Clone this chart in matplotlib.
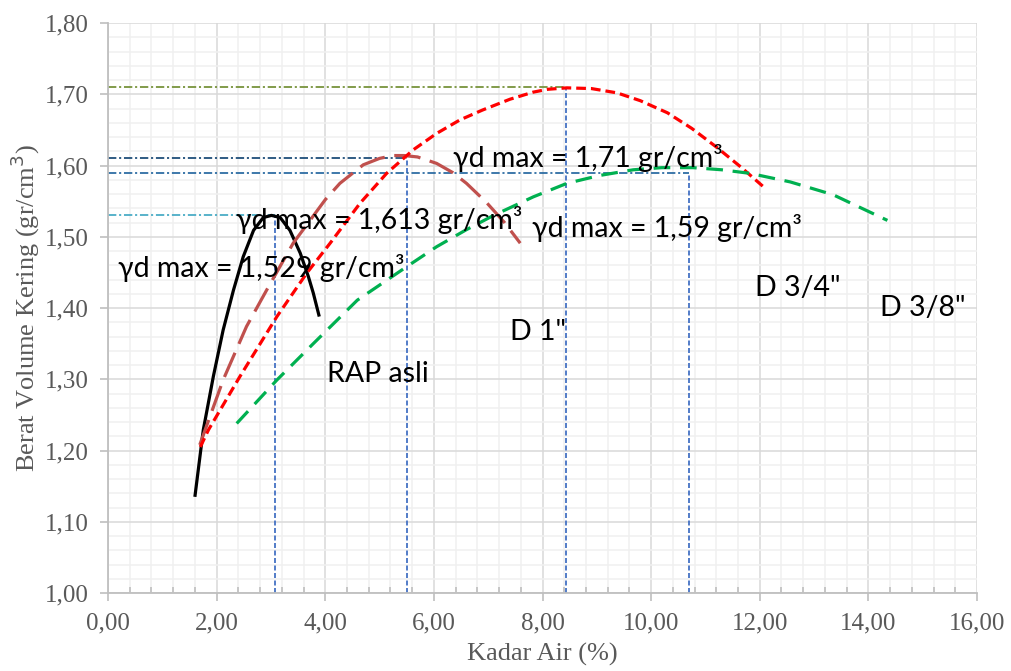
import matplotlib
matplotlib.use("Agg")
import matplotlib.pyplot as plt
from matplotlib.ticker import MultipleLocator, FuncFormatter

plt.rcParams['lines.scale_dashes'] = False

# ---- data ----
rap_x = [1.60, 1.755, 1.94, 2.12, 2.31, 2.49, 2.68, 2.86, 3.01, 3.17, 3.35, 3.54, 3.69, 3.78, 3.89]
rap_y = [1.135, 1.229, 1.304, 1.369, 1.425, 1.472, 1.509, 1.527, 1.530, 1.527, 1.509, 1.477, 1.444, 1.421, 1.388]

d1_x = [1.69, 2.12, 2.55, 2.92, 3.41, 4.00, 4.27, 4.70, 5.00, 5.25, 5.45, 5.70, 6.05, 6.35, 6.60, 6.97, 7.30, 7.59]
d1_y = [1.208, 1.299, 1.374, 1.425, 1.491, 1.552, 1.575, 1.601, 1.610, 1.614, 1.614, 1.612, 1.603, 1.590, 1.575, 1.548, 1.520, 1.491]

d34_x = [1.70, 1.85, 2.43, 3.11, 3.66, 4.09, 4.64, 5.13, 5.62, 6.05, 6.48, 6.90, 7.40, 7.83, 8.10, 8.45, 8.90, 9.37, 9.80, 10.30, 10.75, 11.20, 11.65, 12.10]
d34_y = [1.205, 1.229, 1.304, 1.388, 1.449, 1.491, 1.547, 1.589, 1.622, 1.645, 1.664, 1.678, 1.693, 1.703, 1.707, 1.709, 1.708, 1.702, 1.691, 1.674, 1.652, 1.626, 1.598, 1.568]

d38_x = [2.37, 3.11, 3.78, 4.59, 5.50, 6.05, 6.60, 7.10, 7.83, 8.45, 9.05, 9.67, 10.20, 10.77, 11.30, 11.82, 12.56, 13.35, 14.35]
d38_y = [1.238, 1.299, 1.350, 1.411, 1.458, 1.486, 1.510, 1.530, 1.556, 1.575, 1.586, 1.594, 1.597, 1.597, 1.594, 1.589, 1.577, 1.559, 1.523]

# max dry density reference values
ref_x = [3.08, 5.51, 8.43, 10.70]
ref_y = [1.53, 1.61, 1.71, 1.59]
ref_colors = ['#4BACC6', '#1F4E79', '#77933C', '#2E6DA4']

labels = ["γd max = 1,529 gr/cm³", "γd max = 1,613 gr/cm³", "γd max = 1,71 gr/cm³", "γd max = 1,59 gr/cm³",
          "RAP asli", 'D 1"', 'D 3/4"', 'D 3/8"']
label_x = [0.18, 2.36, 6.35, 7.81, 4.03, 7.40, 11.91, 14.22]
label_y = [1.456, 1.523, 1.610, 1.513, 1.308, 1.366, 1.428, 1.400]

# ---- figure ----
fig = plt.figure(figsize=(10.11, 6.71), dpi=100)
ax = fig.add_axes([0.1068, 0.1162, 0.9664 - 0.1068, 0.9657 - 0.1162])
ax.set_xlim(0, 16)
ax.set_ylim(1.0, 1.8)

ax.xaxis.set_major_locator(MultipleLocator(2))
ax.xaxis.set_minor_locator(MultipleLocator(0.4))
ax.yaxis.set_major_locator(MultipleLocator(0.1))
ax.yaxis.set_minor_locator(MultipleLocator(0.02))
fmt = FuncFormatter(lambda v, p: f"{v:.2f}".replace('.', ','))
ax.xaxis.set_major_formatter(fmt)
ax.yaxis.set_major_formatter(fmt)

ax.grid(which='major', color='#D9D9D9', lw=1.1, zorder=0)
ax.grid(which='minor', color='#F0F0F0', lw=1.1, zorder=0)
ax.set_axisbelow(True)
for s in ['top', 'right']:
    ax.spines[s].set_visible(False)
for s in ['left', 'bottom']:
    ax.spines[s].set_color('#BFBFBF')
    ax.spines[s].set_linewidth(1.3)

ax.tick_params(axis='both', which='major', color='#BFBFBF', length=6, width=1.2,
               labelcolor='#595959', labelsize=18)
ax.tick_params(axis='x', which='major', pad=8)
ax.tick_params(axis='y', which='major', pad=8)
ax.tick_params(axis='x', which='minor', direction='in', length=4, color='#BFBFBF', width=1.2)
ax.tick_params(axis='y', which='minor', length=0)
for lab in ax.get_xticklabels() + ax.get_yticklabels():
    lab.set_family('Liberation Serif')

ax.set_xlabel("Kadar Air (%)", family='Liberation Serif', fontsize=19, color='#595959', labelpad=6)
ax.set_ylabel("Berat Volume Kering (gr/cm$^3$)", family='Liberation Serif', fontsize=19,
              color='#595959', labelpad=2)

# reference lines
for xv, yv, c in zip(ref_x, ref_y, ref_colors):
    ax.plot([0, xv], [yv, yv], color=c, lw=1.3, dashes=(6, 2, 1.5, 2), zorder=2)
    ax.plot([xv, xv], [1.0, yv], color='#4472C4', lw=1.3, dashes=(3.6, 1.8), zorder=2)

# curves
ax.plot(rap_x, rap_y, color='black', lw=2.3, solid_capstyle='butt', solid_joinstyle='round', zorder=3)
ax.plot(d1_x, d1_y, color='#C0504D', lw=2.3, dashes=(19, 7), zorder=3)
ax.plot(d34_x, d34_y, color='#FF0000', lw=2.3, dashes=(7, 3.6), zorder=3)
ax.plot(d38_x, d38_y, color='#00B050', lw=2.3, dashes=(12, 7), zorder=3)

for t, x, y in zip(labels, label_x, label_y):
    ax.text(x, y, t, ha='left', va='center', fontsize=20.5,
            family=['Lato', 'DejaVu Sans'], color='black', zorder=4)

fig.savefig('out.png', dpi=100)
